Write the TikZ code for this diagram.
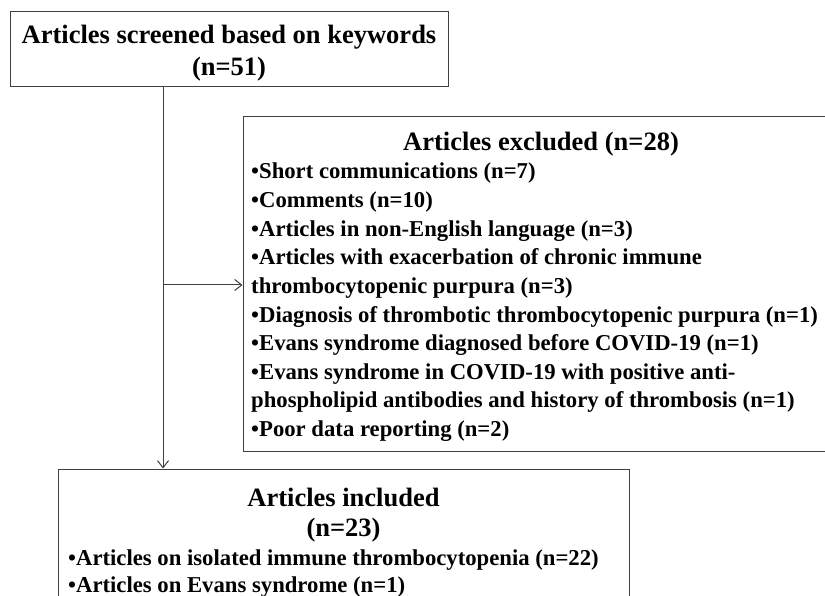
\documentclass[tikz,border=0pt]{standalone}
\usepackage{fontspec}
\setmainfont{Liberation Serif}
\usetikzlibrary{arrows.meta}

\tikzset{
  box/.style={draw=black!75, line width=1pt, inner sep=0pt},
  head/.style={font=\fontsize{26.5}{32}\selectfont\bfseries, anchor=base, inner sep=0pt},
  item/.style={font=\fontsize{22.7}{28}\selectfont\bfseries, anchor=base west, inner sep=0pt},
  flow/.style={draw=black!75, line width=1pt, -{Straight Barb[length=7pt,width=11pt]}}
}

\begin{document}
\begin{tikzpicture}[x=1pt,y=-1pt]
        \useasboundingbox (0,0) rectangle (825,596);
        \clip (0,0) rectangle (825,596);

        % boxes
        \node[box, minimum width=438pt, minimum height=75pt] (screened) at (229,49.5) {};
        \node[box, minimum width=596pt, minimum height=334pt] (excluded) at (541,284) {};
        \node[box, minimum width=571pt, minimum height=200pt] (included) at (343.5,569) {};

        % top box
        \node[head] (screenedtitle) at (229,44) {Articles screened based on keywords};
        \node[head] (screenedn) at (229,76) {(n=51)};

        % excluded box
        \node[head] (excludedtitle) at (541,151) {Articles excluded (n=28)};
        \foreach \txt [count=\i] in {
            •Short communications (n=7),
            •Comments (n=10),
            •Articles in non-English language (n=3),
            •Articles with exacerbation of chronic immune,
            thrombocytopenic purpura (n=3),
            •Diagnosis of thrombotic thrombocytopenic purpura (n=1),
            •Evans syndrome diagnosed before COVID-19 (n=1),
            •Evans syndrome in COVID-19 with positive anti-,
            phospholipid antibodies and history of thrombosis (n=1),
            •Poor data reporting (n=2)}
            \node[item] (excl\i) at (251,{179+28.6*(\i-1)}) {\txt};

        % included box
        \node[head] (includedtitle) at (343.5,506) {Articles included};
        \node[head] (includedn) at (343.5,536) {(n=23)};
        \node[item] (incl1) at (68,565) {•Articles on isolated immune thrombocytopenia (n=22)};
        \node[item] (incl2) at (68,592) {•Articles on Evans syndrome (n=1)};

        % connectors
        \coordinate (branch) at (163,285);
        \draw[flow] (screened.south -| branch) -- (included.north -| branch);
        \draw[flow] (branch) -- (branch -| excluded.west);
\end{tikzpicture}
\end{document}
